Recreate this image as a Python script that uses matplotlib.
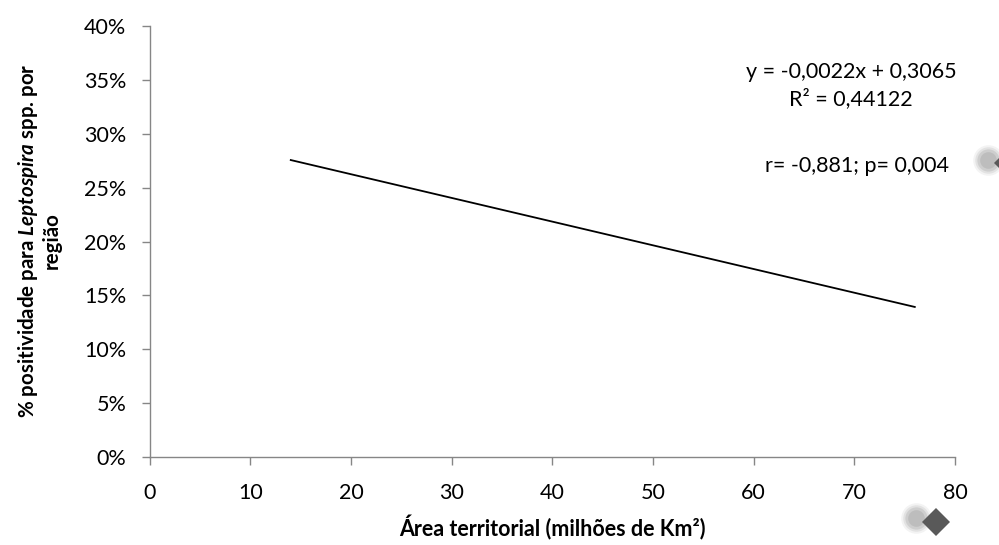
import matplotlib
matplotlib.use('Agg')
import matplotlib.pyplot as plt
import numpy as np
from matplotlib.ticker import FuncFormatter

# trend line endpoints (x in millions of km2, y as fraction)
trend_x = [14, 76]
trend_y = [0.2757, 0.1393]

# stray diamond points (drawn outside the plot area in the original)
point_x = [78.1, 85.3]
point_y = [-0.060, 0.273]
shadow_dx = -2.0
shadow_dy = 0.003

eq_lines = ['y = -0,0022x + 0,3065', 'R² = 0,44122']
stat_text = 'r= -0,881; p= 0,004'

xticks = [0, 10, 20, 30, 40, 50, 60, 70, 80]
yticks = [0, 0.05, 0.10, 0.15, 0.20, 0.25, 0.30, 0.35, 0.40]

plt.rcParams['font.family'] = ['Lato', 'DejaVu Sans']
plt.rcParams['mathtext.fontset'] = 'custom'
plt.rcParams['mathtext.it'] = 'Lato:italic:bold'
plt.rcParams['mathtext.rm'] = 'Lato:bold'

axis_col = '#868686'
fs = 15.5

fig = plt.figure(figsize=(9.99, 5.45), dpi=100)
ax = fig.add_axes([0.150, 0.1615, 0.806, 0.7905])

ax.plot(trend_x, trend_y, color='black', linewidth=1.3)

# blurred shadow blobs then the diamonds
sx = np.array(point_x) + shadow_dx
sy = np.array(point_y) + shadow_dy
for size, alpha in [(22, 0.12), (19, 0.2), (16, 0.3), (12, 0.35)]:
    ax.plot(sx, sy, linestyle='none', marker='o', markersize=size,
            color='#a0a0a0', alpha=alpha, markeredgewidth=0, clip_on=False)
ax.plot(point_x, point_y, linestyle='none', marker='D', markersize=14.5,
        color='#595959', markeredgewidth=0, clip_on=False)

ax.set_xlim(0, 80)
ax.set_ylim(0, 0.40)
ax.set_xticks(xticks)
ax.set_yticks(yticks)
ax.yaxis.set_major_formatter(FuncFormatter(lambda v, p: '%d%%' % round(v * 100)))

for s in ['top', 'right']:
    ax.spines[s].set_visible(False)
for s in ['left', 'bottom']:
    ax.spines[s].set_color(axis_col)
    ax.spines[s].set_linewidth(1.0)

ax.tick_params(axis='x', direction='out', length=6, width=1.0, color=axis_col,
               pad=13, labelsize=fs)
ax.tick_params(axis='y', direction='out', length=6, width=1.0, color=axis_col,
               pad=11, labelsize=fs)

ax.text(0.871, 0.893, eq_lines[0], transform=ax.transAxes,
        ha='center', va='center', fontsize=fs)
ax.text(0.871, 0.831, eq_lines[1], transform=ax.transAxes,
        ha='center', va='center', fontsize=fs)
ax.text(0.878, 0.675, stat_text, transform=ax.transAxes, ha='center',
        va='center', fontsize=fs)

fig.text(0.553, 0.0165, 'Área territorial (milhões de Km²)', ha='center',
         va='baseline', fontsize=fs, fontweight='bold')
fig.text(0.039, 0.558, '% positividade para $Leptospira$ spp. por\nregião',
         rotation=90, ha='center', va='center', fontsize=14.8, fontweight='bold',
         multialignment='center', linespacing=1.15)

fig.savefig('out.png', dpi=100)
